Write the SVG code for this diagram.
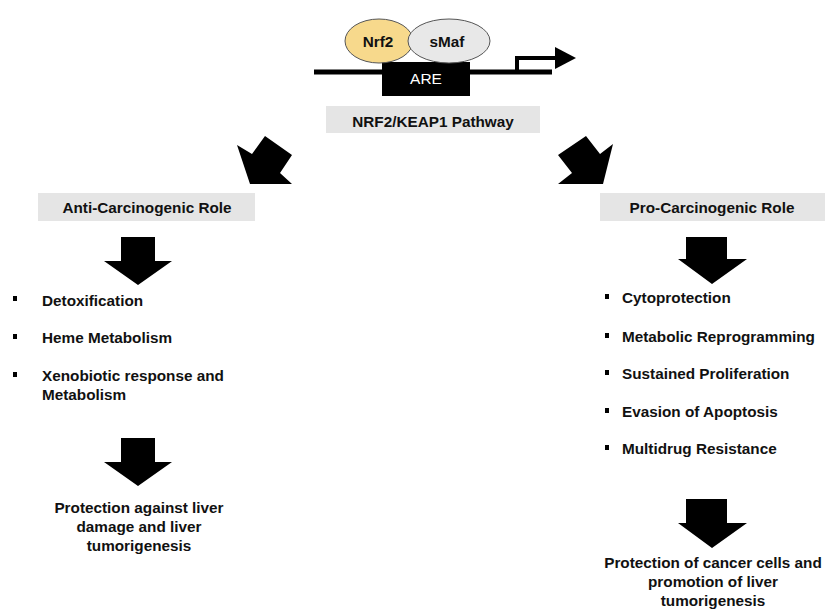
<svg xmlns="http://www.w3.org/2000/svg" width="825" height="610" viewBox="0 0 825 610">
<style>
.t{font-family:"Liberation Sans",Arial,sans-serif;font-weight:bold;font-size:15.3px;fill:#111}
.c{text-anchor:middle}
.box{fill:#e5e5e5}
.arr{fill:#000}
.bul{fill:#000}
</style>
<rect width="825" height="610" fill="#fff"/>
<g id="gene">
<line x1="314" y1="72" x2="552" y2="72" stroke="#000" stroke-width="5"/>
<rect x="382" y="62" width="88" height="34" fill="#000"/>
<text x="426" y="84" text-anchor="middle" font-family="Liberation Sans,Arial,sans-serif" font-size="15.5" fill="#fff">ARE</text>
<polyline points="517,72 517,58 557,58" fill="none" stroke="#000" stroke-width="4"/>
<polygon points="555,47 576,58 555,69" fill="#000"/>
</g>
<g id="nrf2">
<ellipse cx="379" cy="41" rx="34" ry="22" fill="#f7d98c" stroke="#555" stroke-width="1"/>
<text x="378" y="47" class="t c" font-size="15">Nrf2</text>
</g>
<g id="smaf">
<ellipse cx="449" cy="41" rx="41" ry="22" fill="#e8e8e8" stroke="#555" stroke-width="1"/>
<text x="447" y="47" class="t c">sMaf</text>
</g>
<g id="pathway">
<rect x="326" y="106" width="214" height="27" class="box"/>
<text x="433" y="127" class="t c">NRF2/KEAP1 Pathway</text>
</g>
<g id="connectors">
<polygon class="arr" points="237,145 252,154 265,136 292,155 280,173 292,184 250,184"/>
<polygon class="arr" points="558,155 586,136 600,154 613,144 603,184 558,184 572,173"/>
<polygon class="arr" points="121,237 155,237 155,261 172,261 138,285 104,261 121,261"/>
<polygon class="arr" points="121,438 155,438 155,462 172,462 138,486 104,462 121,462"/>
<polygon class="arr" points="686,237 727,237 727,259 747,259 712,284 678,259 686,259"/>
<polygon class="arr" points="686,499 727,499 727,523 747,523 712,548 678,523 686,523"/>
</g>
<g id="anti">
<rect x="38" y="193" width="217" height="28" class="box"/>
<text x="147" y="213" class="t c">Anti-Carcinogenic Role</text>
</g>
<g id="anti-list">
<rect class="bul" x="13" y="296" width="4" height="5"/>
<text x="42" y="306" class="t">Detoxification</text>
<rect class="bul" x="13" y="334" width="4" height="5"/>
<text x="42" y="343" class="t">Heme Metabolism</text>
<rect class="bul" x="13" y="372" width="4" height="5"/>
<text x="42" y="381" class="t">Xenobiotic response and</text>
<text x="42" y="400" class="t">Metabolism</text>
</g>
<g id="anti-outcome">
<text x="139" y="513" class="t c">Protection against liver</text>
<text x="139" y="532" class="t c">damage and liver</text>
<text x="139" y="551" class="t c">tumorigenesis</text>
</g>
<g id="pro">
<rect x="600" y="193" width="225" height="28" class="box"/>
<text x="712" y="213" class="t c">Pro-Carcinogenic Role</text>
</g>
<g id="pro-list">
<rect class="bul" x="605" y="294" width="4" height="5"/>
<text x="622" y="303" class="t">Cytoprotection</text>
<rect class="bul" x="605" y="333" width="4" height="5"/>
<text x="622" y="342" class="t">Metabolic Reprogramming</text>
<rect class="bul" x="605" y="370" width="4" height="5"/>
<text x="622" y="379" class="t">Sustained Proliferation</text>
<rect class="bul" x="605" y="408" width="4" height="5"/>
<text x="622" y="417" class="t">Evasion of Apoptosis</text>
<rect class="bul" x="605" y="445" width="4" height="5"/>
<text x="622" y="454" class="t">Multidrug Resistance</text>
</g>
<g id="pro-outcome">
<text x="713" y="568" class="t c">Protection of cancer cells and</text>
<text x="713" y="587" class="t c">promotion of liver</text>
<text x="713" y="606" class="t c">tumorigenesis</text>
</g>
</svg>
